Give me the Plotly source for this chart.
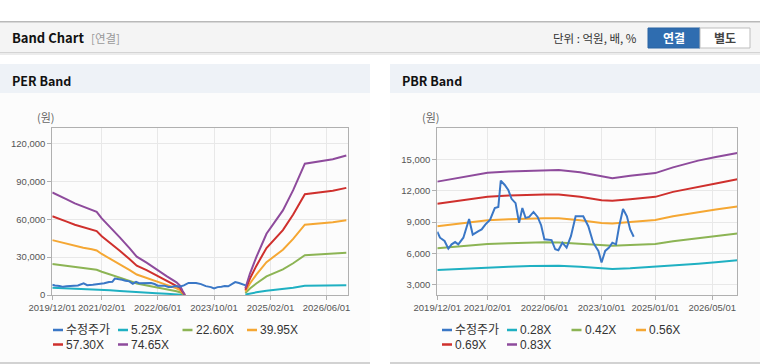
import plotly.graph_objects as go

# ---------------- data ----------------
price_dates = ["2019-12-01","2019-12-24","2020-02-01","2020-03-04","2020-04-01","2020-05-01","2020-05-28",
               "2020-07-10","2020-08-28","2020-09-28","2020-11-16","2020-12-13","2021-01-13","2021-02-23",
               "2021-04-04","2021-05-04","2021-05-25","2021-06-28","2021-07-28","2021-08-25","2021-09-28",
               "2021-10-28","2021-11-25","2021-12-22","2022-01-22","2022-02-28","2022-04-04","2022-05-04",
               "2022-06-01","2022-07-04","2022-08-01","2022-09-01","2022-09-28","2022-11-01","2022-12-07",
               "2023-01-13","2023-02-22","2023-04-28","2023-06-10","2023-07-22","2023-09-04","2023-10-01",
               "2023-11-01","2023-12-04","2024-01-01","2024-02-01","2024-02-28","2024-04-01","2024-05-04",
               "2024-06-01","2024-07-01"]
price_values = [8070,7500,7180,6450,6860,7080,6860,
                7500,9300,7800,8130,8290,8760,9240,
                10345,10440,12970,12560,12090,11230,10820,
                8920,10345,9400,9490,9970,9490,8700,
                7340,7270,7270,6390,6290,7020,6550,
                7650,9550,9550,8600,7020,6230,5120,
                6230,6550,7020,6860,8600,10250,9550,
                8290,7590]

per_dates = ["2019-12-01","2020-01-22","2020-04-04","2020-06-13","2020-08-25","2020-11-07","2020-12-19",
             "2021-02-01","2021-04-13","2021-07-07","2021-10-01","2021-12-01","2022-02-24","2022-05-19",
             "2022-08-16","2022-11-10","2022-12-10","2023-01-01","2023-01-22",
             "2023-10-01",
             "2024-06-28","2024-08-07","2024-10-01","2024-12-28","2025-05-19","2025-08-16","2025-11-25",
             "2026-02-04","2026-07-25","2026-11-19"]
per_525 = [5710,5560,5320,5100,4910,4770,4630,4270,3800,3210,2590,2130,1800,1430,1050,700,520,240,0,
           None, 370,1200,2110,3410,4710,5830,7310,7380,7560,7770]
per_2260 = [24590,23950,22920,21950,21170,20530,19950,18380,16380,13810,11170,9170,7750,6150,4540,3030,2240,1030,0,
            None, 1600,5150,9080,14690,20290,25130,31490,31790,32550,33460]
per_3995 = [43460,42330,40510,38800,37410,36290,35270,32490,28950,24410,19750,16220,13700,10860,8030,5350,3960,1820,0,
            None, 2840,9100,16060,25960,35860,44420,55660,56200,57530,59140]
per_5730 = [62330,60720,58110,55650,53660,52040,50580,46590,41530,35000,28320,23260,19650,15580,11510,7680,5680,2610,0,
            None, 4070,13050,23030,37230,51430,63710,79830,80600,82520,84820]
per_7465 = [81200,79100,75700,72500,69900,67800,65900,60700,54100,45600,36900,30300,25600,20300,15000,10000,7400,3400,0,
            None, 5300,17000,30000,48500,67000,83000,104000,105000,107500,110500]

pbr_dates = ["2019-12-01","2020-06-01","2021-02-01","2021-08-01","2022-02-01","2022-06-01","2022-10-01",
             "2023-04-01","2023-10-01","2024-01-01","2024-06-01","2025-01-01","2025-06-01","2026-01-01",
             "2026-06-01","2026-12-01"]
pbr_028 = [4390,4500,4680,4720,4790,4800,4800,4700,4530,4490,4560,4700,4840,5000,5150,5340]
pbr_042 = [6480,6650,6890,6960,7050,7060,7050,6930,6790,6730,6800,6900,7150,7450,7650,7910]
pbr_056 = [8600,8850,9170,9280,9350,9360,9360,9180,8900,8860,9000,9200,9550,9950,10200,10500]
pbr_069 = [10760,11050,11420,11560,11640,11650,11640,11420,11100,11040,11200,11420,11900,12400,12700,13100]
pbr_083 = [12880,13250,13730,13850,13930,13950,14000,13780,13350,13200,13450,13700,14250,14900,15250,15630]

per_labels = ["수정주가", "5.25X", "22.60X", "39.95X", "57.30X", "74.65X"]
pbr_labels = ["수정주가", "0.28X", "0.42X", "0.56X", "0.69X", "0.83X"]

per_ticks = ["2019-12-01", "2021-02-01", "2022-06-01", "2023-10-01", "2025-02-01", "2026-06-01"]
pbr_ticks = ["2019-12-01", "2021-02-01", "2022-06-01", "2023-10-01", "2025-01-01", "2026-05-01"]
per_yticks = [0, 30000, 60000, 90000, 120000]
pbr_yticks = [3000, 6000, 9000, 12000, 15000]

colors = ["#3a77c6", "#1fb0c2", "#8cb454", "#f5a733", "#cf302d", "#8e4b9c"]

# ---------------- figure ----------------
W, H = 760, 364
def px(x):
    return x / W
def py(y):
    return 1 - y / H

fig = go.Figure()

per_series = [(price_dates, price_values), (per_dates, per_525), (per_dates, per_2260),
              (per_dates, per_3995), (per_dates, per_5730), (per_dates, per_7465)]
pbr_series = [(price_dates, price_values), (pbr_dates, pbr_028), (pbr_dates, pbr_042),
              (pbr_dates, pbr_056), (pbr_dates, pbr_069), (pbr_dates, pbr_083)]

order = [1, 2, 3, 4, 5, 0]  # draw price on top
for i in order:
    d, v = per_series[i]
    fig.add_trace(go.Scatter(x=d, y=v, mode="lines", name=per_labels[i],
                             line=dict(color=colors[i], width=2), connectgaps=False,
                             showlegend=False, xaxis="x", yaxis="y"))
for i in order:
    d, v = pbr_series[i]
    fig.add_trace(go.Scatter(x=d, y=v, mode="lines", name=pbr_labels[i],
                             line=dict(color=colors[i], width=2),
                             showlegend=False, xaxis="x2", yaxis="y2"))

tickfont = dict(family="Liberation Sans, Arial, sans-serif", size=9.5, color="#555")
def fmt_date(s):
    return s.replace("-", "/")

xcommon = dict(type="date", showgrid=True, gridcolor="#e8e8e8", gridwidth=1,
               showline=True, linecolor="#b0b0b0", linewidth=1, mirror=True,
               ticks="outside", ticklen=4, tickcolor="#b0b0b0", tickangle=0, automargin=False,
               tickfont=tickfont, zeroline=False, fixedrange=True)
ycommon = dict(showgrid=True, gridcolor="#e8e8e8", gridwidth=1,
               showline=True, linecolor="#b0b0b0", linewidth=1, mirror=True,
               ticks="outside", ticklen=4, tickcolor="#b0b0b0", automargin=False,
               tickfont=tickfont, zeroline=False, fixedrange=True, tickformat=",")

y0, y1 = py(295), py(128.3)
fig.update_layout(
    template="none",
    width=W, height=H, margin=dict(l=0, r=0, t=0, b=0, pad=0),
    paper_bgcolor="white", plot_bgcolor="white", showlegend=False,
    xaxis=dict(xcommon, domain=[px(52.3), px(347.7)], range=["2019-12-01", "2026-12-01"],
               tickvals=per_ticks, ticktext=[fmt_date(t) for t in per_ticks], anchor="y"),
    yaxis=dict(ycommon, domain=[y0, y1], range=[0, 132000], tickvals=per_yticks, anchor="x"),
    xaxis2=dict(xcommon, domain=[px(437.3), px(737.3)], range=["2019-12-01", "2026-12-01"],
                tickvals=pbr_ticks, ticktext=[fmt_date(t) for t in pbr_ticks], anchor="y2"),
    yaxis2=dict(ycommon, domain=[y0, y1], range=[2000, 18000], tickvals=pbr_yticks, anchor="x2"),
)

shapes = []
def rect(x0, y0_, x1, y1_, fill, line=None, lw=0, layer="below"):
    shapes.append(dict(type="rect", xref="paper", yref="paper",
                       x0=px(x0), x1=px(x1), y0=py(y1_), y1=py(y0_),
                       fillcolor=fill, line=dict(color=line or fill, width=lw), layer=layer))

# header
rect(0, 21, 760, 53, "#f4f4f4")
rect(0, 21, 760, 22.5, "#b9b9b9")
rect(0, 52, 760, 53, "#d4d4d4")
rect(0, 53, 760, 55, "#ececec")
# panels
for x0, x1 in [(0, 370), (390, 760)]:
    rect(x0, 64, x1, 93, "#eef2f7")
    rect(x0, 93, x1, 362, "#fcfcfc")
    rect(x0, 362, x1, 364, "#d2d2d2")
# buttons
rect(648, 28, 700, 48, "#2f6db0", line="#2a64a3", lw=1, layer="above")
rect(700, 28, 750, 48, "#ffffff", line="#bdbdbd", lw=1, layer="above")

annotations = []
def text(x, y, s, size=12, color="#333", family="Noto Sans CJK KR, sans-serif", anchor="left"):
    annotations.append(dict(xref="paper", yref="paper", x=px(x), y=py(y), text=s,
                            showarrow=False, xanchor=anchor, yanchor="middle",
                            font=dict(size=size, color=color, family=family)))

text(10, 38, "<b>Band Chart</b>", size=13, color="#111")
text(89, 38.5, "[연결]", size=11.5, color="#999")
text(551, 38.5, "단위 : 억원, 배, %", size=11.5, color="#333")
text(674, 38, "<b>연결</b>", size=12, color="#ffffff", anchor="center")
text(725, 38, "<b>별도</b>", size=12, color="#444", anchor="center")
text(10, 80, "<b>PER Band</b>", size=12.5, color="#111")
text(400, 80, "<b>PBR Band</b>", size=12.5, color="#111")
text(35, 117, "(원)", size=11, color="#666")
text(420, 117, "(원)", size=11, color="#666")

# custom legends
legend_font = "Liberation Sans, Noto Sans CJK KR, sans-serif"
def legend(x_base, labels):
    pos = [(0, 330), (65, 330), (129.5, 330), (194, 330), (0, 344.5), (65, 344.5)]
    for i, lab in enumerate(labels):
        dx, yy = pos[i]
        x = x_base + dx
        shapes.append(dict(type="line", xref="paper", yref="paper",
                           x0=px(x), x1=px(x + 10), y0=py(yy), y1=py(yy),
                           line=dict(color=colors[i], width=2.5), layer="above"))
        text(x + 11, yy, lab, size=12, color="#333", family=legend_font)

legend(53, per_labels)
legend(442, pbr_labels)

fig.update_layout(shapes=shapes, annotations=annotations)
fig.write_html("out.html", config=dict(displayModeBar=False),
               post_script="document.body.style.margin='0';document.body.style.overflow='hidden';")
